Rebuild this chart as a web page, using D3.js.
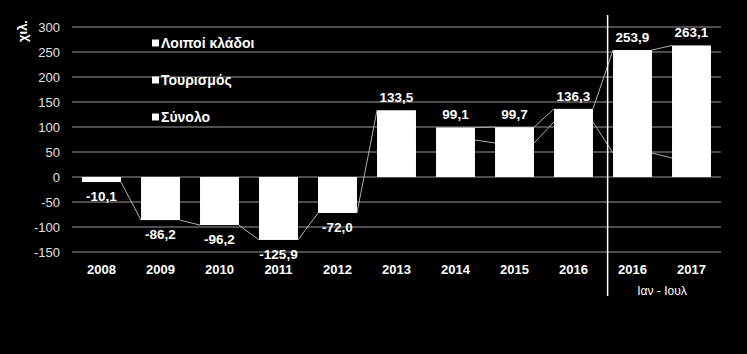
<!DOCTYPE html>
<html>
<head>
<meta charset="utf-8">
<script src="https://cdn.jsdelivr.net/npm/d3@7"></script>
<style>
  body { margin: 0; background: #000; }
  text { font-family: Arial, "Liberation Sans", sans-serif; }
</style>
</head>
<body>
<svg width="747" height="354"></svg>
<script>
// categories (2016 appears twice: full year and Jan-Jul)
var years = ["2008", "2009", "2010", "2011", "2012", "2013", "2014", "2015", "2016", "2016", "2017"];
// stacked series, thousands
var loipoi    = [null, null, null, null, null, null, 74, 68, 110, 48, 38];
var tourismos = [null, null, null, null, null, null, 25.1, 31.7, 26.3, 205.9, 225.1];
var synolo    = [-10.1, -86.2, -96.2, -125.9, -72.0, 133.5, null, null, null, null, null];
var seriesNames = ["Λοιποί κλάδοι", "Τουρισμός", "Σύνολο"];
var yTicks = [-150, -100, -50, 0, 50, 100, 150, 200, 250, 300];
var periodLabel = "Ιαν - Ιουλ";

var el = d3.formatLocale({decimal: ",", thousands: ".", grouping: [3], currency: ["", "€"], minus: "-"});
var fmt1 = el.format(".1f"),
    fmt0 = el.format("d");

var svg = d3.select("svg"),
    plotLeft = 72, plotRight = 721, plotTop = 27, plotBottom = 252;

svg.append("rect").attr("width", 747).attr("height", 354).attr("fill", "#000");

var xScale = d3.scaleBand().domain(d3.range(years.length)).range([plotLeft, plotRight])
        .paddingInner(0.34).paddingOuter(0.17),
    yScale = d3.scaleLinear().domain([-150, 300]).range([plotBottom, plotTop]);
var bw = xScale.bandwidth();

// gridlines + y labels
svg.append("g").selectAll("line").data(yTicks).enter().append("line")
   .attr("x1", plotLeft).attr("x2", plotRight)
   .attr("y1", function(d) { return yScale(d); })
   .attr("y2", function(d) { return yScale(d); })
   .attr("stroke", "#9a9a9a").attr("stroke-width", 1);

var yAxis = svg.append("g")
   .attr("transform", "translate(" + plotLeft + ",0)")
   .call(d3.axisLeft(yScale).tickValues(yTicks).tickSize(0).tickPadding(12).tickFormat(fmt0));
yAxis.select(".domain").remove();
yAxis.selectAll("text").attr("fill", "#e0e0e0").style("font-size", "13px")
   .style("font-family", "Arial, 'Liberation Sans', sans-serif");

svg.append("text")
   .attr("transform", "translate(27,31) rotate(-90)")
   .attr("text-anchor", "middle")
   .attr("fill", "#fff").style("font-size", "13px").style("font-weight", "bold")
   .text("χιλ.");

// stacked bars
var stackOrder = [loipoi, tourismos, synolo];
var cum = stackOrder.map(function() { return []; });
var totals = [];
years.forEach(function(_, i) {
    var sum = 0;
    stackOrder.forEach(function(s, k) {
        var v = s[i];
        if (v == null) { cum[k][i] = null; return; }
        var y0 = sum, y1 = sum + v;
        svg.append("rect")
           .attr("x", xScale(i))
           .attr("y", yScale(Math.max(y0, y1)))
           .attr("width", bw)
           .attr("height", Math.abs(yScale(y0) - yScale(y1)))
           .attr("fill", "#fff");
        cum[k][i] = y1;
        sum = y1;
    });
    totals.push(sum);
});

// series lines between neighbouring columns
cum.forEach(function(c) {
    for (var i = 0; i < c.length - 1; i++) {
        if (c[i] == null || c[i + 1] == null) continue;
        svg.append("line")
           .attr("x1", xScale(i) + bw).attr("y1", yScale(c[i]))
           .attr("x2", xScale(i + 1)).attr("y2", yScale(c[i + 1]))
           .attr("stroke", "#b0b0b0").attr("stroke-width", 1);
    }
});

// value labels
svg.append("g").selectAll("text").data(totals).enter().append("text")
   .attr("x", function(_, i) { return xScale(i) + bw / 2; })
   .attr("y", function(d) { return d >= 0 ? yScale(d) - 8 : yScale(d) + 19; })
   .attr("text-anchor", "middle")
   .attr("fill", "#fff").style("font-size", "13.5px").style("font-weight", "bold")
   .text(function(d) { return fmt1(d); });

// category labels
svg.append("g").selectAll("text").data(years).enter().append("text")
   .attr("x", function(_, i) { return xScale(i) + bw / 2; })
   .attr("y", 274)
   .attr("text-anchor", "middle")
   .attr("fill", "#fff").style("font-size", "13px").style("font-weight", "bold")
   .text(function(d) { return d; });

svg.append("text")
   .attr("x", (xScale(9) + xScale(10) + bw) / 2)
   .attr("y", 295)
   .attr("text-anchor", "middle")
   .attr("fill", "#fff").style("font-size", "12px")
   .text(periodLabel);

// separator between yearly and Jan-Jul data
var gap = xScale.step() - bw;
var sepX = xScale(9) - gap * 0.27;
svg.append("line")
   .attr("x1", sepX).attr("x2", sepX)
   .attr("y1", 15).attr("y2", 296)
   .attr("stroke", "#fff").attr("stroke-width", 1.5);

// legend
var legend = svg.append("g").selectAll("g").data(seriesNames).enter().append("g")
   .attr("transform", function(_, i) { return "translate(152," + (43 + i * 37) + ")"; });
legend.append("rect").attr("x", 0).attr("y", -3.5).attr("width", 7).attr("height", 7).attr("fill", "#fff");
legend.append("text").attr("x", 9).attr("y", 5)
   .attr("fill", "#fff").style("font-size", "14px").style("font-weight", "bold")
   .text(function(d) { return d; });
</script>
</body>
</html>
